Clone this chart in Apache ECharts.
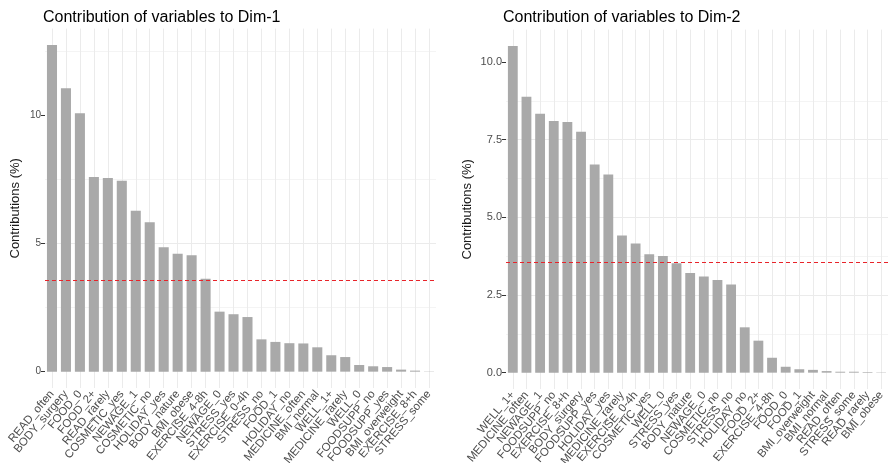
<!DOCTYPE html>
<html>
<head>
<meta charset="utf-8">
<script src="https://cdn.jsdelivr.net/npm/echarts@6/dist/echarts.min.js"></script>
<style>
  html, body { margin: 0; padding: 0; background: #fff; }
  #chart { width: 889px; height: 463px; }
</style>
</head>
<body>
<div id="chart"></div>
<script>
// Dim-1 contributions, sorted as in the picture
const dim1Labels = ["READ_often", "BODY_surgery", "FOOD_0", "FOOD_2+", "READ_rarely", "COSMETIC_yes",
  "NEWAGE_1", "COSMETIC_no", "HOLIDAY_yes", "BODY_nature", "BMI_obese", "EXERCISE_4-8h", "NEWAGE_0",
  "STRESS_yes", "EXERCISE_0-4h", "STRESS_no", "FOOD_1", "HOLIDAY_no", "MEDICINE_often", "BMI_normal",
  "WELL_1+", "MEDICINE_rarely", "WELL_0", "FOODSUPP_no", "FOODSUPP_yes", "BMI_overweight",
  "EXERCISE_8+h", "STRESS_some"];
const dim1Values = [12.74, 11.05, 10.08, 7.59, 7.55, 7.44, 6.27, 5.83, 4.85, 4.60, 4.54, 3.62, 2.34,
  2.24, 2.13, 1.26, 1.16, 1.11, 1.10, 0.95, 0.64, 0.57, 0.26, 0.21, 0.18, 0.08, 0.04, 0.01];

// Dim-2 contributions
const dim2Labels = ["WELL_1+", "MEDICINE_often", "NEWAGE_1", "FOODSUPP_no", "EXERCISE_8+h", "BODY_surgery",
  "FOODSUPP_yes", "HOLIDAY_yes", "MEDICINE_rarely", "EXERCISE_0-4h", "COSMETIC_yes", "WELL_0",
  "STRESS_yes", "BODY_nature", "NEWAGE_0", "COSMETIC_no", "STRESS_no", "HOLIDAY_no", "FOOD_2+",
  "EXERCISE_4-8h", "FOOD_0", "FOOD_1", "BMI_overweight", "BMI_normal", "READ_often", "STRESS_some",
  "READ_rarely", "BMI_obese"];
const dim2Values = [10.52, 8.88, 8.34, 8.10, 8.07, 7.76, 6.70, 6.38, 4.42, 4.16, 3.81, 3.76, 3.52,
  3.21, 3.10, 2.98, 2.84, 1.46, 1.03, 0.48, 0.19, 0.11, 0.09, 0.05, 0.03, 0.03, 0.02, 0.01];

const dim1Ticks = [0, 5, 10];
const dim2Ticks = [0, 2.5, 5, 7.5, 10];
const expectedLine = 3.57; // red dashed reference

const font = "'Liberation Sans', Arial, sans-serif";
const red = "#e8242a";

function panel(i, labels, values, ticks, step, fmt, tickSize, nameGap) {
  const top = Math.max.apply(null, values);
  return {
    x: {
      gridIndex: i,
      type: "category",
      data: labels,
      boundaryGap: true,
      axisLine: { show: false, onZero: false },
      axisTick: { alignWithLabel: true, interval: 0, length: 4, lineStyle: { color: "#333" } },
      axisLabel: { rotate: 50, interval: 0, fontSize: 11.5, color: "#4d4d4d", margin: 4, fontFamily: font },
      splitLine: { show: true, interval: 0, alignWithLabel: true, lineStyle: { color: "#ebebeb", width: 1 } }
    },
    y: {
      gridIndex: i,
      type: "value",
      min: -0.05 * top,
      max: 1.05 * top,
      minInterval: step,
      maxInterval: step,
      axisLine: { show: false },
      axisTick: { show: true, length: 4, lineStyle: { color: "#333" }, customValues: ticks },
      axisLabel: { color: "#4d4d4d", fontSize: tickSize, margin: 4, fontFamily: font,
        customValues: ticks, formatter: fmt },
      splitLine: { lineStyle: { color: "#ebebeb", width: 1 }, showMinLine: false, showMaxLine: false },
      minorTick: { show: false, splitNumber: 2 },
      minorSplitLine: { show: true, lineStyle: { color: "#f4f4f4", width: 1 } },
      name: "Contributions (%)",
      nameLocation: "middle",
      nameGap: nameGap,
      nameTextStyle: { color: "#1a1a1a", fontSize: 13, fontFamily: font }
    },
    s: {
      type: "bar",
      xAxisIndex: i,
      yAxisIndex: i,
      data: values,
      barWidth: "72%",
      itemStyle: { color: "#a9a9a9" },
      markLine: {
        symbol: "none",
        silent: true,
        label: { show: false },
        lineStyle: { color: red, type: [4, 3], width: 1.2 },
        data: [{ yAxis: expectedLine, lineStyle: { color: red, type: [4, 3], width: 1.2 } }]
      }
    }
  };
}

const p1 = panel(0, dim1Labels, dim1Values, dim1Ticks, 5, v => String(v), 10, 23);
const p2 = panel(1, dim2Labels, dim2Values, dim2Ticks, 2.5, v => Number(v).toFixed(1), 11, 32);

const chart = echarts.init(document.getElementById("chart"));
chart.setOption({
  animation: false,
  backgroundColor: "#fff",
  title: [
    { text: "Contribution of variables to Dim-1", left: 38, top: 5,
      textStyle: { fontSize: 16, fontWeight: "normal", color: "#000", fontFamily: font } },
    { text: "Contribution of variables to Dim-2", left: 498, top: 5,
      textStyle: { fontSize: 16, fontWeight: "normal", color: "#000", fontFamily: font } }
  ],
  grid: [
    { left: 45, right: 453, top: 28.6, bottom: 75, containLabel: false, outerBoundsMode: "none" },
    { left: 506, right: 1, top: 29.6, bottom: 74, containLabel: false, outerBoundsMode: "none" }
  ],
  xAxis: [p1.x, p2.x],
  yAxis: [p1.y, p2.y],
  series: [p1.s, p2.s]
});
</script>
</body>
</html>
